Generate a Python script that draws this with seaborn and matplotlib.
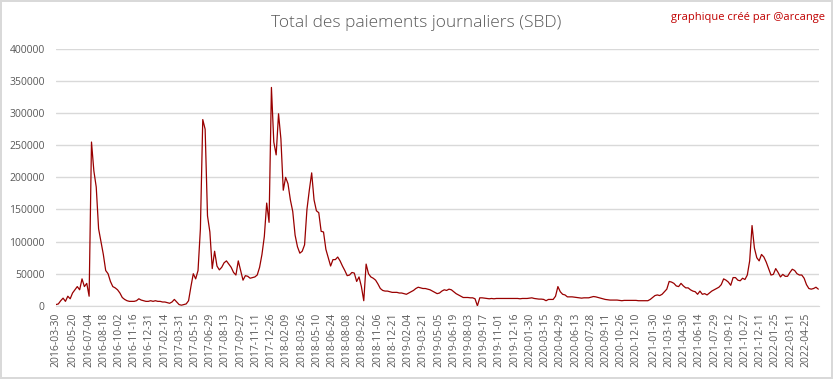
import pandas as pd
import seaborn as sns
import matplotlib.pyplot as plt

# Weekly readings (SBD) starting on the first day of the series
start_date = "2016-03-30"
payouts = [
    2000, 3000, 8000, 12000, 7000, 15000, 11000, 20000, 25000, 30000, 25000,
    42000, 30000, 35000, 15000, 255000, 210000, 185000, 120000, 100000, 80000,
    55000, 50000, 38000, 30000, 28000, 25000, 20000, 13000, 10000, 8000,
    7000, 7000, 7000, 8000, 11000, 9000, 8000, 7000, 7000, 8000,
    7000, 8000, 7000, 7000, 6000, 6000, 5000, 4000, 6000, 10000, 6000, 2000,
    1000, 2000, 3000, 8000, 30000, 50000, 42000, 55000,
    120000, 290000, 275000, 140000, 115000, 58000, 85000, 62000, 56000, 60000,
    67000, 70000, 65000, 60000, 52000, 48000, 70000, 55000, 40000, 47000,
    46000, 43000, 44000, 45000, 48000, 60000, 80000, 108000, 160000, 130000,
    340000, 255000, 235000, 299000, 260000, 180000, 200000, 190000, 165000, 147000,
    110000, 92000, 82000, 85000,
    95000, 150000, 180000, 207000, 165000, 148000,
    145000, 116000, 115000, 88000, 75000, 62000, 72000, 72000, 76000, 70000,
    62000, 55000, 47000, 48000, 52000, 51000, 38000, 45000, 30000, 8000,
    65000, 50000, 45000, 43000, 40000, 34000, 27000, 24000, 23000, 23000,
    22000, 21000, 21000, 21000, 20000, 20000, 19000, 18000, 20000, 22000,
    24000, 27000, 29000, 28000, 27000, 27000,
    26000, 25000, 23000, 21000, 19000, 20000, 23000, 25000, 24000, 26000,
    25000, 22000, 19000, 17000, 15000, 13000, 13000, 13000, 12500, 12500,
    11000, 0, 12500, 12500,
    12000, 11500, 11000, 11500, 11000, 11500, 11500, 11500, 11500, 11500,
    11500, 11500, 11500, 11500, 11500, 11000,
    11500, 11500, 11500, 12000, 12500, 11500, 11000, 10500, 10500, 10000,
    8000, 10000, 10000, 10000, 15000, 30000,
    22000, 18000, 17000, 14000, 14000, 14000, 13500, 13000, 12500, 12000,
    12500, 12500, 12500, 13500, 14500, 14000, 13000, 12000, 11000, 10000,
    9500, 9000, 9000, 9000, 9000, 8500, 8000, 8500, 8500, 8500,
    8500, 8500, 8500, 8000, 8000, 8000, 8000, 8000,
    10000, 13000, 16000, 17000, 16000, 18000, 22000, 26000, 38000, 37000,
    35000, 31000, 30000, 35000, 31000, 28000,
    28000, 25000, 23000, 22000, 18000, 23000, 18000, 19000, 17000, 20000,
    23000, 25000, 27000, 29000, 33000, 42000, 40000, 37000, 32000, 44000,
    44000, 40000, 39000, 43000, 41000, 48000, 70000, 125000, 90000, 75000,
    70000, 80000, 76000, 68000, 58000, 48000, 49000, 58000, 52000, 45000,
    49000, 46000, 46000, 52000, 57000, 55000, 50000, 48000, 48000, 43000,
    33000, 27000, 26000, 27000, 29000, 26000,
]

tick_labels = [
    "2016-03-30", "2016-05-20", "2016-07-04", "2016-08-18", "2016-10-02",
    "2016-11-16", "2016-12-31", "2017-02-14", "2017-03-31", "2017-05-15",
    "2017-06-29", "2017-08-13", "2017-09-27", "2017-11-11", "2017-12-26",
    "2018-02-09", "2018-03-26", "2018-05-10", "2018-06-24", "2018-08-08",
    "2018-09-22", "2018-11-06", "2018-12-21", "2019-02-04", "2019-03-21",
    "2019-05-05", "2019-06-19", "2019-08-03", "2019-09-17", "2019-11-01",
    "2019-12-16", "2020-01-30", "2020-03-15", "2020-04-29", "2020-06-13",
    "2020-07-28", "2020-09-11", "2020-10-26", "2020-12-10", "2021-01-30",
    "2021-03-16", "2021-04-30", "2021-06-14", "2021-07-29", "2021-09-12",
    "2021-10-27", "2021-12-11", "2022-01-25", "2022-03-11", "2022-04-25",
]
y_ticks = [0, 50000, 100000, 150000, 200000, 250000, 300000, 350000, 400000]

df = pd.DataFrame({
    "date": pd.date_range(start_date, periods=len(payouts), freq="7D"),
    "sbd": payouts,
})

sns.set_style("white")
plt.rcParams["font.family"] = ["Open Sans", "DejaVu Sans"]

fig = plt.figure(figsize=(8.33, 3.79), dpi=100, edgecolor="#d9d9d9", linewidth=1.5)
ax = fig.add_axes([0.0672, 0.193, 0.916, 0.678])

sns.lineplot(data=df, x="date", y="sbd", ax=ax, color="#990000", linewidth=0.9)

ax.set_ylim(0, 400000)
ax.set_yticks(y_ticks)
ax.set_yticklabels([str(v) for v in y_ticks])
ax.set_xlim(pd.Timestamp(start_date), pd.Timestamp(start_date) + pd.Timedelta(days=2256))
ax.set_xticks(pd.to_datetime(tick_labels))
ax.set_xticklabels(tick_labels, rotation=90)

ax.grid(axis="y", color="#d9d9d9", linewidth=1)
ax.set_axisbelow(True)
for side in ["top", "right", "left"]:
    ax.spines[side].set_visible(False)
ax.spines["bottom"].set_color("#d9d9d9")
ax.tick_params(axis="both", length=0, labelsize=7.5, colors="#595959")
ax.tick_params(axis="y", pad=8)
ax.tick_params(axis="x", pad=5)
ax.set_xlabel("")
ax.set_ylabel("")

fig.text(0.5, 0.94, "Total des paiements journaliers (SBD)", ha="center", va="center",
         fontsize=12.5, color="#595959", fontweight="light")
fig.text(0.99, 0.955, "graphique créé par @arcange", ha="right", va="center",
         fontsize=8, color="#c00000")

fig.savefig("out.png", dpi=100, edgecolor=fig.get_edgecolor())
